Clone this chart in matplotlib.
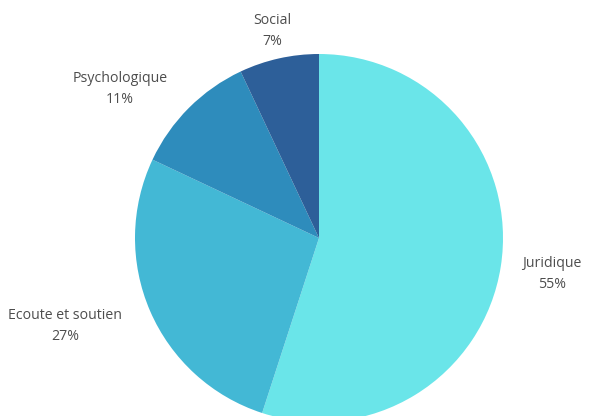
import matplotlib.pyplot as plt

plt.rcParams['font.family'] = ['Open Sans', 'DejaVu Sans']

labels = ['Juridique', 'Ecoute et soutien', 'Psychologique', 'Social']
values = [55, 27, 11, 7]
colors = ['#6ae5e9', '#43b8d5', '#2e8cbc', '#2d5f99']

# label anchor positions (pixels in the 589x416 picture)
label_px = [(552, 274), (65, 326), (120, 89), (272, 31)]

W, H = 589, 416
cx, cy, r = 319, 238, 184

fig = plt.figure(figsize=(W / 100, H / 100), dpi=100)
ax = fig.add_axes([(cx - r) / W, (H - cy - r) / H, 2 * r / W, 2 * r / H])
ax.pie(values, colors=colors, startangle=90, counterclock=False,
       radius=1, wedgeprops=dict(linewidth=0))
ax.set_xlim(-1, 1)
ax.set_ylim(-1, 1)
ax.set_aspect('equal')
ax.axis('off')

for lab, v, (px, py) in zip(labels, values, label_px):
    fig.text(px / W, 1 - py / H, f'{lab}\n{v}%', ha='center', va='center',
             fontsize=10.2, color='#4d4d4d', linespacing=1.5)

fig.savefig('out.png', dpi=100)
